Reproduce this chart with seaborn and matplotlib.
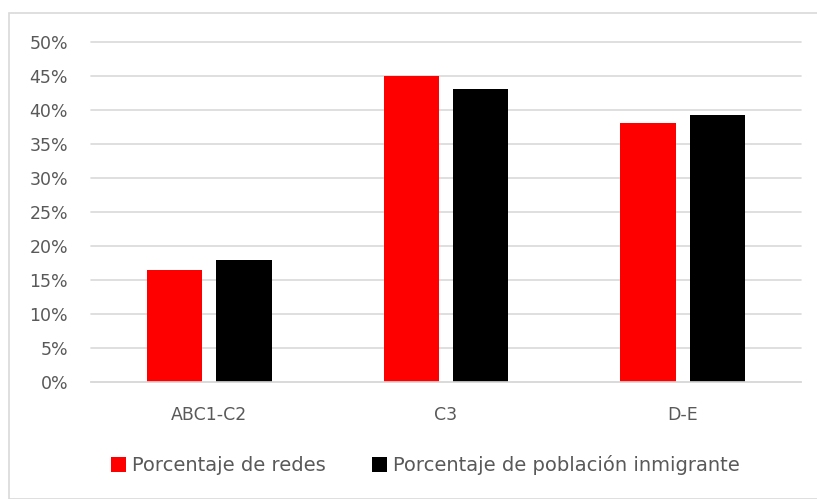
import matplotlib.pyplot as plt
import seaborn as sns
import pandas as pd
from matplotlib.patches import Rectangle
from matplotlib.ticker import PercentFormatter

# Datos
categorias = ['ABC1-C2', 'C3', 'D-E']
series = ['Porcentaje de redes', 'Porcentaje de población inmigrante']
redes = [0.164, 0.450, 0.381]
inmigrante = [0.180, 0.431, 0.392]
colores = ['#FF0000', '#000000']

df = pd.DataFrame({
    'categoria': categorias * 2,
    'serie': [series[0]] * 3 + [series[1]] * 3,
    'valor': redes + inmigrante,
})

sns.set_theme(style='white')
plt.rcParams['font.family'] = ['DejaVu Sans']

fig = plt.figure(figsize=(8.17, 4.99), dpi=100)
ax = fig.add_axes([91 / 817, 1 - 382 / 499, 710 / 817, 340 / 499])

sns.barplot(data=df, x='categoria', y='valor', hue='serie', palette=colores,
            width=0.584, gap=0.2, saturation=1, linewidth=0, ax=ax, legend=True)

ax.set_ylim(0, 0.5)
ax.set_xlim(-0.5, 2.5)
ax.set_yticks([i * 0.05 for i in range(11)])
ax.yaxis.set_major_formatter(PercentFormatter(1.0, decimals=0))
ax.grid(axis='y', color='#d9d9d9', linewidth=1.2)
for linea in ax.get_ygridlines():
    linea.set_clip_on(False)
ax.set_axisbelow(True)
for lado in ['top', 'right', 'left']:
    ax.spines[lado].set_visible(False)
ax.spines['bottom'].set_color('#d9d9d9')
ax.spines['bottom'].set_linewidth(1.2)
ax.tick_params(axis='both', length=0, labelsize=12.5, labelcolor='#595959')
ax.tick_params(axis='y', pad=16.5)
ax.tick_params(axis='x', pad=17)
ax.set_xlabel('')
ax.set_ylabel('')

ax.legend(loc='center', bbox_to_anchor=(0.471, -0.245), ncol=2, frameon=False,
          fontsize=14, labelcolor='#595959', handlelength=0.75, handleheight=0.75,
          handletextpad=0.3, columnspacing=2.4)

# Borde del área del gráfico
fig.patches.append(Rectangle((9 / 817, 0.0), 810 / 817, 1 - 13 / 499,
                             transform=fig.transFigure, fill=False,
                             edgecolor='#d9d9d9', linewidth=1.2))

fig.savefig('out.png', dpi=100)
